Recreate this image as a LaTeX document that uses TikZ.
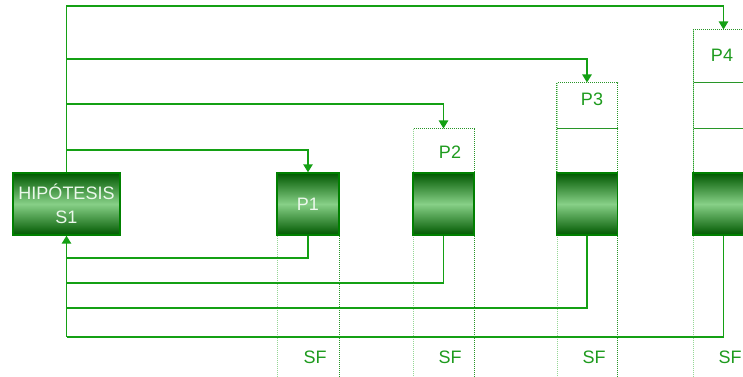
\documentclass[tikz,border=0pt]{standalone}
\usepackage{fontspec}
\setmainfont{Liberation Sans}
\usetikzlibrary{arrows.meta}
\definecolor{lineG}{RGB}{20,160,20}
\definecolor{textG}{RGB}{30,155,30}
\definecolor{boxDark}{RGB}{0,88,0}
\definecolor{boxLight}{RGB}{135,208,135}
\definecolor{boxEdge}{RGB}{0,128,0}
\definecolor{dotLight}{RGB}{150,215,150}
\definecolor{dotDark}{RGB}{40,150,40}
\definecolor{boxText}{RGB}{235,248,235}
\tikzset{
  gbox/.style={draw=boxEdge, line width=1pt, top color=boxDark, bottom color=boxDark,
    middle color=boxLight, inner sep=0pt, minimum height=46.5pt, text=boxText,
    font=\fontsize{13.5}{18}\selectfont, align=center},
  hbox/.style={draw=dotDark, line width=0.75pt, dash pattern=on 0.75pt off 0.75pt,
    inner sep=0pt, minimum width=45.75pt},
  lbl/.style={text=textG, font=\fontsize{13.5}{16}\selectfont, inner sep=0pt},
  conn/.style={draw=lineG, line width=1.1pt},
  arr/.style={-{Triangle[length=6pt,width=7pt]}},
  dotL/.style={draw=dotLight, line width=0.75pt, dash pattern=on 0.75pt off 0.75pt},
  dotR/.style={draw=dotDark, line width=0.75pt, dash pattern=on 0.75pt off 0.75pt},
}
\begin{document}
\begin{tikzpicture}[x=0.75pt,y=-0.75pt]
\useasboundingbox (0,0) rectangle (743,377);
\fill[white] (0,0) rectangle (743,377);

% header cells (dotted) above the columns
\node[hbox, minimum height=33pt] (h2) at (443.5,151) {};
\node[hbox, minimum height=34.5pt] (h3a) at (587,106) {};
\node[hbox, minimum height=33pt] (h3b) at (587,151) {};
\node[hbox, minimum height=39.75pt, minimum width=45.75pt] (h4a) at (723.5,56.5) {};
\node[hbox, minimum height=34.5pt] (h4b) at (723.5,106) {};
\node[hbox, minimum height=33pt] (h4c) at (723.5,151) {};

% column guide lines running to the bottom
\path[dotL] (277,234) -- (277,377);
\path[dotR] (339,234) -- (339,377);
\path[dotL] (413,129) -- (413,377);
\path[dotR] (474,234) -- (474,377);
\path[dotL] (557,83) -- (557,377);
\path[dotR] (617,234) -- (617,377);
\path[dotL] (693,30) -- (693,377);

% shaded boxes
\node[gbox, minimum width=80.25pt] (s1) at (66.5,204) {HIPÓTESIS\\S1};
\node[gbox, minimum width=46.5pt] (p1) at (308,204) {P1};
\node[gbox, minimum width=45.75pt] (p2) at (443.5,204) {};
\node[gbox, minimum width=45.75pt] (p3) at (587,204) {};
\node[gbox, minimum width=45.75pt] (p4) at (723.5,204) {};

% labels
\node[lbl] (t2) at (450,152) {P2};
\node[lbl] (t3) at (592,99) {P3};
\node[lbl] (t4) at (722,55) {P4};
\node[lbl] (sf1) at (315,357) {SF};
\node[lbl] (sf2) at (450,357) {SF};
\node[lbl] (sf3) at (594,357) {SF};
\node[lbl] (sf4) at (730,357) {SF};

% forward connectors
\coordinate (a1) at (308,150);
\coordinate (a2) at (443.5,104);
\coordinate (a3) at (587,59);
\coordinate (a4) at (723.5,6);
\draw[conn,arr] (s1.north) |- (a1) -- (p1.north);
\draw[conn,arr] (s1.north) |- (a2) -- (h2.north);
\draw[conn,arr] (s1.north) |- (a3) -- (h3a.north);
\draw[conn,arr] (s1.north) |- (a4) -- (h4a.north);

% feedback connectors
\coordinate (r1) at (66.5,258);
\coordinate (r2) at (66.5,283);
\coordinate (r3) at (66.5,308);
\coordinate (r4) at (66.5,337);
\draw[conn] (p1.south) |- (r1);
\draw[conn] (p2.south) |- (r2);
\draw[conn] (p3.south) |- (r3);
\draw[conn] (p4.south) |- (r4);
\draw[conn,arr] (r4) -- (s1.south);
\end{tikzpicture}
\end{document}
